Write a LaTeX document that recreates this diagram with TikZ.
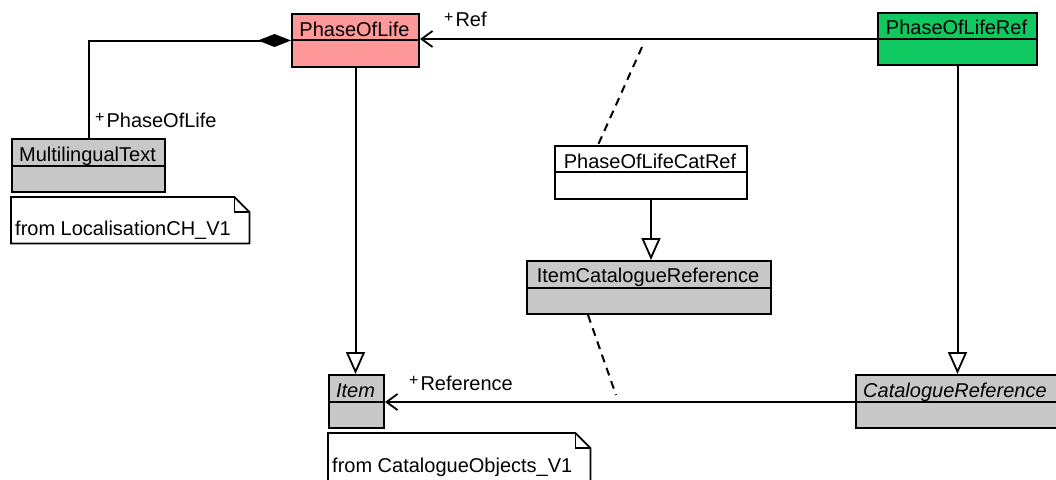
\documentclass[tikz,border=0pt]{standalone}
\usepackage{fontspec}
\setmainfont{Liberation Sans}
\usetikzlibrary{arrows.meta}
\definecolor{polpink}{RGB}{255,153,153}
\definecolor{polgreen}{RGB}{16,200,96}
\definecolor{clsgrey}{RGB}{200,200,200}
\newcommand\umlplus{\raisebox{5pt}{\fontsize{16}{16}\selectfont +}\hspace{2pt}}
\begin{document}
\begin{tikzpicture}[x=1pt,y=-1pt,
  font=\fontsize{20}{24}\selectfont,
  clsbox/.style={draw, line width=2pt, inner sep=0pt, minimum height=53pt, anchor=north west},
  ttl/.style={anchor=base, inner sep=0pt},
  divline/.style={line width=1.8pt},
  conn/.style={line width=2pt},
  gen/.style={conn, -{Triangle[length=22pt, width=19pt, fill=white, line width=1.8pt]}},
  assoc/.style={conn, -{Straight Barb[length=11pt, width=16pt, line width=1.8pt]}},
  comp/.style={conn, {Diamond[length=33pt, width=13pt]}-},
  assocdash/.style={line width=2pt, dash pattern=on 8pt off 6pt},
  lbl/.style={anchor=base west, inner sep=0pt},
  notebox/.style={inner sep=0pt, anchor=north west},
  noteline/.style={line width=1.8pt},
]
\useasboundingbox (0,0) rectangle (1056,479);

% ---- classes ----
\node[clsbox, fill=polpink, minimum width=127pt] (pol) at (291,13) {};
\draw[divline] (291,40) -- (418,40);
\node[ttl] (polt) at (354.5,36) {PhaseOfLife};

\node[clsbox, fill=polgreen, minimum width=159pt, minimum height=52pt] (polref) at (877,12) {};
\draw[divline] (877,39) -- (1036,39);
\node[ttl] (polreft) at (956.5,34.5) {PhaseOfLifeRef};

\node[clsbox, fill=clsgrey, minimum width=153pt] (multi) at (11,138) {};
\draw[divline] (11,166) -- (164,166);
\node[ttl] (multit) at (87.5,161) {MultilingualText};

\node[clsbox, fill=white, minimum width=192pt] (catref) at (554,145) {};
\draw[divline] (554,172) -- (746,172);
\node[ttl] (catreft) at (650,168) {PhaseOfLifeCatRef};

\node[clsbox, fill=clsgrey, minimum width=244pt] (icr) at (526,260) {};
\draw[divline] (526,288) -- (770,288);
\node[ttl] (icrt) at (648,282) {ItemCatalogueReference};

\node[clsbox, fill=clsgrey, minimum width=55pt] (item) at (328,374) {};
\draw[divline] (328,402) -- (383,402);
\node[ttl] (itemt) at (355.5,397) {\itshape Item};

\node[clsbox, fill=clsgrey, minimum width=205pt] (cr) at (855,374) {};
\draw[divline] (855,402) -- (1060,402);
\node[lbl] (crt) at (863,397) {\itshape CatalogueReference};

% ---- notes ----
\node[notebox, minimum width=238pt, minimum height=46pt] (n1) at (11,197) {};
\draw[noteline, fill=white] (n1.south west) -- (n1.north west) -- ([xshift=-15pt]n1.north east)
  -- ([yshift=-15pt]n1.north east) -- (n1.south east) -- cycle;
\draw[noteline] ([xshift=-15pt]n1.north east) -- ([xshift=-15pt,yshift=-15pt]n1.north east) -- ([yshift=-15pt]n1.north east);
\node[lbl] (n1t) at (15,235) {from LocalisationCH\_V1};

\node[notebox, minimum width=262pt, minimum height=52pt] (n2) at (328,433) {};
\draw[noteline, fill=white] (n2.south west) -- (n2.north west) -- ([xshift=-15pt]n2.north east)
  -- ([yshift=-15pt]n2.north east) -- (n2.south east) -- cycle;
\draw[noteline] ([xshift=-15pt]n2.north east) -- ([xshift=-15pt,yshift=-15pt]n2.north east) -- ([yshift=-15pt]n2.north east);
\node[lbl] (n2t) at (332,472) {from CatalogueObjects\_V1};

% ---- connectors ----
\draw[comp] (pol.west) -| (multi.north);
\draw[assoc] (polref.west) -- (pol.east |- polref.west);
\draw[assoc] (cr.west |- 0,402) -- (item.east |- 0,402);
\draw[gen] (pol.south) -- (pol.south |- item.north);
\draw[gen] (catref.south) -- (catref.south |- icr.north);
\draw[gen] (polref.south) -- (polref.south |- cr.north);

\coordinate (d1) at (642,47);
\coordinate (d2) at (616,395);
\draw[assocdash] (d1) -- ([xshift=-53pt]catref.north);
\draw[assocdash] ([xshift=-61pt]icr.south) -- (d2);

% ---- labels ----
\node[lbl] (lref) at (444,27) {\umlplus Ref};
\node[lbl] (lpol) at (95,127) {\umlplus PhaseOfLife};
\node[lbl] (lrefer) at (409,390) {\umlplus Reference};
\end{tikzpicture}
\end{document}
